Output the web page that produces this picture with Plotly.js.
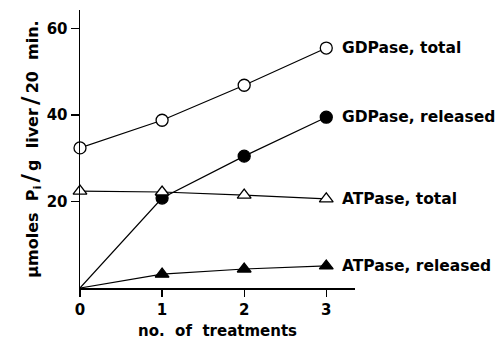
<!DOCTYPE html>
<html><head><meta charset="utf-8">
<script src="https://cdn.plot.ly/plotly-3.0.1.min.js"></script>
<style>html,body{margin:0;padding:0;background:#fff}</style>
</head><body><div id="chart" style="width:504px;height:344px"></div>
<script>
var treatments = [0, 1, 2, 3];
var gdpaseTotal = [32.4, 38.8, 46.9, 55.5];
var gdpaseReleased = [0, 20.8, 30.5, 39.5];
var atpaseTotal = [22.4, 22.2, 21.5, 20.6];
var atpaseReleased = [0, 3.2, 4.4, 5.1];
var seriesNames = ["GDPase, total", "GDPase, released", "ATPase, total", "ATPase, released"];
var xTickVals = [0, 1, 2, 3];
var yTickVals = [20, 40, 60];

var FONT = "DejaVu Sans, sans-serif";
function tr(y, sym, fill, name, showFirst) {
  var sizes = y.map(function(v, i){ return (i === 0 && !showFirst) ? 0 : 12; });
  return {x: treatments, y: y, mode: "lines+markers", name: name,
    line: {color: "#000", width: 1.2},
    marker: {symbol: sym, size: sizes, color: fill, opacity: 1,
             line: {color: "#000", width: 1.3}},
    cliponaxis: false, showlegend: false};
}
var data = [
  tr(gdpaseTotal, "circle", "#ffffff", seriesNames[0], true),
  tr(gdpaseReleased, "circle", "#000000", seriesNames[1], false),
  tr(atpaseTotal, "triangle-up", "#ffffff", seriesNames[2], true),
  tr(atpaseReleased, "triangle-up", "#000000", seriesNames[3], false)
];

var lastY = [gdpaseTotal[3], gdpaseReleased[3], atpaseTotal[3], atpaseReleased[3]];
var annotations = seriesNames.map(function(n, i){
  return {x: 3, y: lastY[i], xref: "x", yref: "y", text: n, showarrow: false,
    xanchor: "left", yanchor: "middle", xshift: 14,
    font: {family: FONT, size: 15.5, color: "#000", weight: "bold"}};
});

var SL = "<span style=\"font-size:23px\">/</span>";
var layout = {
  width: 504, height: 344,
  margin: {l: 80, r: 149, t: 10, b: 56},
  paper_bgcolor: "#fff", plot_bgcolor: "#fff",
  font: {family: FONT, color: "#000"},
  xaxis: {range: [0, 3.35], tickvals: xTickVals, ticktext: xTickVals.map(String),
    showgrid: false, zeroline: false, showline: true, linecolor: "#000", linewidth: 1.5,
    ticks: "outside", ticklen: 7, tickwidth: 1.3, tickcolor: "#000",
    tickfont: {family: FONT, size: 15, weight: "bold"},
    title: {text: "no.\u00a0 of\u00a0 treatments", font: {family: FONT, size: 15, weight: "bold"}, standoff: 8}},
  yaxis: {range: [0, 64.3], tickvals: yTickVals, ticktext: yTickVals.map(String),
    showgrid: false, zeroline: false, showline: true, linecolor: "#000", linewidth: 1.5,
    ticks: "outside", ticklen: 8, tickwidth: 1.3, tickcolor: "#000",
    tickfont: {family: FONT, size: 15, weight: "bold"},
    title: {text: "μmoles\u00a0 P<sub>i</sub>\u2009" + SL + "\u2009g\u00a0 liver\u2009" + SL + "\u200920\u00a0 min.", font: {family: FONT, size: 16, weight: "bold"}, standoff: 4}},
  annotations: annotations
};
Plotly.newPlot("chart", data, layout, {staticPlot: true, displayModeBar: false});
</script></body></html>
